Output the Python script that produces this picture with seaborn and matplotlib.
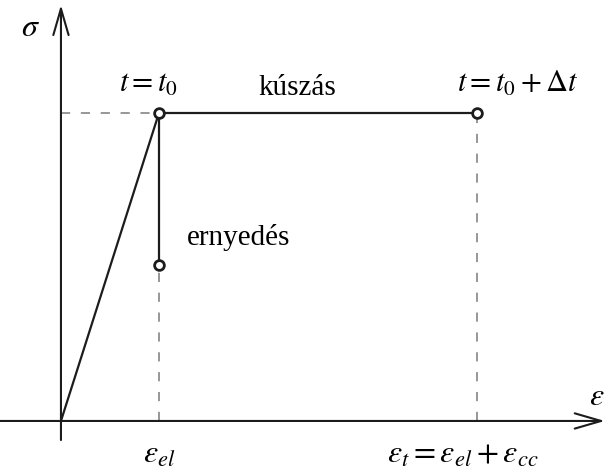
import matplotlib
matplotlib.use("Agg")
import matplotlib.pyplot as plt
import seaborn as sns
import pandas as pd

sns.set_theme(style="white")
plt.rcParams["font.family"] = ["Liberation Serif", "DejaVu Serif"]
plt.rcParams["mathtext.fontset"] = "stix"

# strain / stress values of the idealised creep-relaxation diagram
eps_el = 1.0          # elastic strain at loading
eps_t = 4.245         # total strain after creep
sigma0 = 1.0          # stress held during creep
sigma_relaxed = 0.506 # stress after relaxation

loading = pd.DataFrame({"eps": [0.0, eps_el], "sigma": [0.0, sigma0]})
creep = pd.DataFrame({"eps": [eps_el, eps_t], "sigma": [sigma0, sigma0]})
relax = pd.DataFrame({"eps": [eps_el, eps_el], "sigma": [sigma0, sigma_relaxed]})

fig = plt.figure(figsize=(6.08, 4.69), dpi=100)
ax = fig.add_axes([0, 0, 1, 1])
ax.set_xlim(-0.622, 5.582)
ax.set_ylim(-0.156, 1.367)
ax.axis("off")

ink = "#1c1c1c"
dash = "#7a7a7a"

# helper guide lines
ax.plot([0, eps_el], [sigma0, sigma0], color=dash, lw=1.1, dashes=(6, 7))
ax.plot([eps_el, eps_el], [0, sigma_relaxed], color=dash, lw=1.1, dashes=(6, 7))
ax.plot([eps_t, eps_t], [0, sigma0], color=dash, lw=1.1, dashes=(6, 7))

# axes with open arrow heads
arrow = dict(arrowstyle="->,head_length=1.9,head_width=0.55", color=ink, lw=1.5,
             mutation_scale=10, shrinkA=0, shrinkB=0)
ax.annotate("", xy=(5.55, 0), xytext=(-0.622, 0), arrowprops=arrow)
ax.annotate("", xy=(0, 1.351), xytext=(0, -0.062), arrowprops=arrow)

# stress-strain path
for df in (loading, creep, relax):
    sns.lineplot(data=df, x="eps", y="sigma", sort=False, estimator=None,
                 color=ink, lw=1.6, ax=ax)

# state markers
pts = pd.DataFrame({"eps": [eps_el, eps_t, eps_el], "sigma": [sigma0, sigma0, sigma_relaxed]})
ax.plot(pts["eps"], pts["sigma"], ls="none", marker="o", ms=7, mfc="white",
        mec=ink, mew=2.0, zorder=5)

fs_math = 23
fs_text = 21
def label(text, xy, off, ha="center", va="baseline", size=fs_math):
    ax.annotate(text, xy=xy, xytext=off, textcoords="offset pixels",
                ha=ha, va=va, fontsize=size, color="black")

label(r"$\sigma$", (0, 1.351), (-30, -24), va="center")
label(r"$\varepsilon$", (5.55, 0), (-8, 23), va="center")
label(r"$t = t_0$", (eps_el, sigma0), (-11, 21), size=22)
label("kúszás", (eps_el, sigma0), (138, 18), size=fs_text)
label(r"$t = t_0 + \Delta t$", (eps_t, sigma0), (-20, 21), ha="left", size=22)
label("ernyedés", (eps_el, sigma_relaxed), (28, 20), ha="left", size=fs_text)
label(r"$\varepsilon_{el}$", (eps_el, 0), (0, -34), va="center")
label(r"$\varepsilon_t = \varepsilon_{el} + \varepsilon_{cc}$", (eps_t, 0), (-14, -34), va="center")

fig.savefig("out.png", dpi=100)
